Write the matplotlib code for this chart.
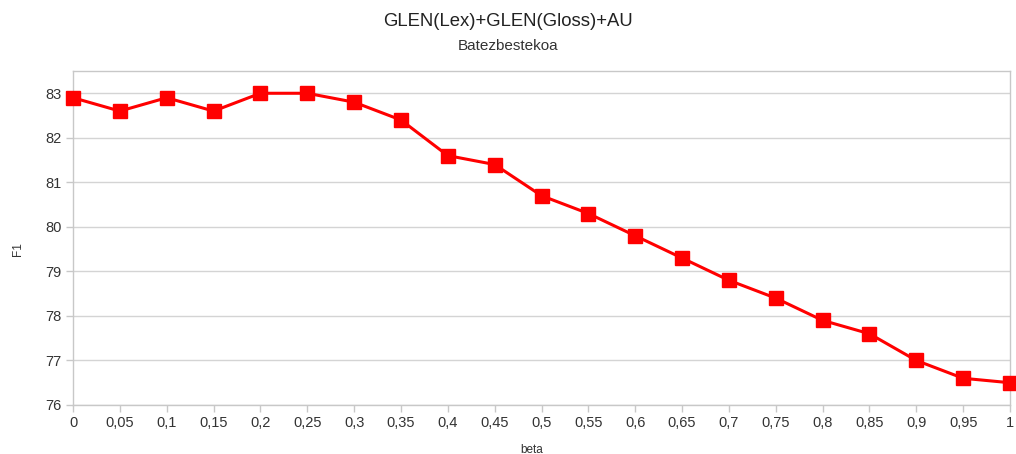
import matplotlib
matplotlib.use("Agg")
import matplotlib.pyplot as plt

beta = [0, 0.05, 0.1, 0.15, 0.2, 0.25, 0.3, 0.35, 0.4, 0.45, 0.5,
        0.55, 0.6, 0.65, 0.7, 0.75, 0.8, 0.85, 0.9, 0.95, 1.0]
f1 = [82.9, 82.6, 82.9, 82.6, 83.0, 83.0, 82.8, 82.4, 81.6, 81.4, 80.7,
      80.3, 79.8, 79.3, 78.8, 78.4, 77.9, 77.6, 77.0, 76.6, 76.5]
x_labels = ["0", "0,05", "0,1", "0,15", "0,2", "0,25", "0,3", "0,35", "0,4", "0,45", "0,5",
            "0,55", "0,6", "0,65", "0,7", "0,75", "0,8", "0,85", "0,9", "0,95", "1"]
y_ticks = [76, 77, 78, 79, 80, 81, 82, 83]

plt.rcParams['font.family'] = ['Liberation Sans', 'DejaVu Sans']

fig = plt.figure(figsize=(10.16, 4.54), dpi=100)
ax = fig.add_axes([73/1016, 1-405/454, (1010-73)/1016, (405-71)/454])

ax.plot(beta, f1, color='#ff0000', lw=2.2, marker='s', markersize=10,
        markeredgecolor='#ff0000', markerfacecolor='#ff0000', clip_on=False, zorder=5)

ax.set_xlim(0, 1)
ax.set_ylim(76, 83.5)
ax.set_xticks(beta)
ax.set_xticklabels(x_labels)
ax.set_yticks(y_ticks)
ax.grid(axis='y', color='#d4d4d4', lw=1)
ax.set_axisbelow(True)
for s in ax.spines.values():
    s.set_color('#c8c8c8')
    s.set_linewidth(1)
ax.tick_params(axis='both', colors='#c8c8c8', labelcolor='#333333', labelsize=10.5, length=5, width=1)
ax.tick_params(axis='x', pad=3)
ax.tick_params(axis='y', pad=3)

fig.text(18/1016, 1-249/454, 'F1', rotation=90, ha='center', va='center', fontsize=8.5, color='#333333')
fig.text(532/1016, 1-450/454, 'beta', ha='center', va='center', fontsize=8.5, color='#333333')

fig.text(0.5, 1-21/454, 'GLEN(Lex)+GLEN(Gloss)+AU', ha='center', va='center', fontsize=13.3, color='#222222')
fig.text(0.5, 1-46/454, 'Batezbestekoa', ha='center', va='center', fontsize=11, color='#333333')

fig.savefig('out.png', dpi=100)
